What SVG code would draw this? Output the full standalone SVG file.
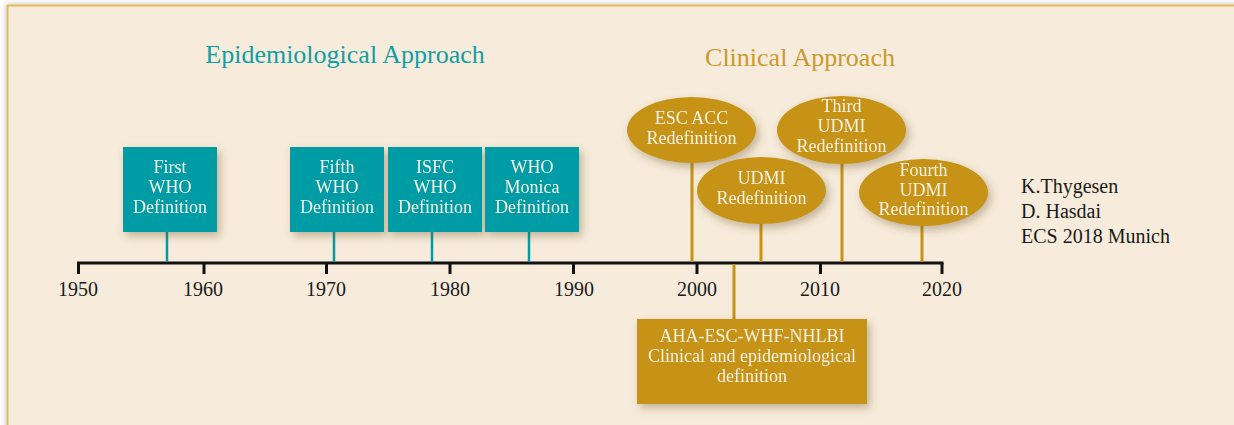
<svg xmlns="http://www.w3.org/2000/svg" width="1234" height="425" viewBox="0 0 1234 425">
  <defs>
    <filter id="panelShadow" x="-5%" y="-5%" width="110%" height="110%">
      <feDropShadow dx="0" dy="0" stdDeviation="3" flood-color="#000" flood-opacity="0.25"/>
    </filter>
    <filter id="nodeShadow" x="-20%" y="-20%" width="145%" height="150%">
      <feDropShadow dx="3" dy="4" stdDeviation="4" flood-color="#5a4020" flood-opacity="0.35"/>
    </filter>
    <style>
      .teal { fill: #009ca5; }
      .gold { fill: #c79315; }
      .node-text { font-family: "Liberation Serif", "Times New Roman", serif; font-size: 18px; fill: #f6f1e6; text-anchor: middle; }
      .year { font-family: "Liberation Serif", "Times New Roman", serif; font-size: 20px; fill: #1a1a1a; text-anchor: middle; }
      .title { font-family: "Liberation Serif", "Times New Roman", serif; font-size: 26px; text-anchor: middle; }
      .credit { font-family: "Liberation Serif", "Times New Roman", serif; font-size: 20px; fill: #1a1a1a; }
      .stem-teal { stroke: #009ca5; stroke-width: 2.5; fill: none; }
      .stem-gold { stroke: #c79315; stroke-width: 3; fill: none; }
      .axis { stroke: #111; stroke-width: 3; fill: none; }
    </style>
  </defs>

  <!-- page and panel -->
  <rect x="0" y="0" width="1234" height="425" fill="#ffffff"/>
  <rect x="7.5" y="5.5" width="1240" height="430" fill="#f7ecdb" stroke="#e2b85a" stroke-width="2" filter="url(#panelShadow)"/>

  <!-- section titles -->
  <text class="title" x="345" y="63" fill="#129ea6">Epidemiological Approach</text>
  <text class="title" x="800" y="66" fill="#c99a2e">Clinical Approach</text>

  <!-- timeline axis with decade ticks -->
  <g id="axis">
    <line class="axis" x1="77" y1="263" x2="943.5" y2="263"/>
    <g stroke="#111" stroke-width="3">
      <line x1="78.5" y1="263" x2="78.5" y2="274"/>
      <line x1="204" y1="263" x2="204" y2="274"/>
      <line x1="326.5" y1="263" x2="326.5" y2="274"/>
      <line x1="450" y1="263" x2="450" y2="274"/>
      <line x1="573.5" y1="263" x2="573.5" y2="274"/>
      <line x1="697" y1="263" x2="697" y2="274"/>
      <line x1="820.5" y1="263" x2="820.5" y2="274"/>
      <line x1="942" y1="263" x2="942" y2="274"/>
    </g>
    <text class="year" x="78" y="296">1950</text>
    <text class="year" x="203" y="296">1960</text>
    <text class="year" x="326" y="296">1970</text>
    <text class="year" x="450" y="296">1980</text>
    <text class="year" x="574" y="296">1990</text>
    <text class="year" x="697" y="296">2000</text>
    <text class="year" x="820" y="296">2010</text>
    <text class="year" x="942" y="296">2020</text>
  </g>

  <!-- connectors from each definition to its year -->
  <g id="connectors">
    <line class="stem-teal" x1="167" y1="232" x2="167" y2="262"/>
    <line class="stem-teal" x1="334" y1="232" x2="334" y2="262"/>
    <line class="stem-teal" x1="432" y1="232" x2="432" y2="262"/>
    <line class="stem-teal" x1="529" y1="232" x2="529" y2="262"/>
    <line class="stem-gold" x1="692" y1="162" x2="692" y2="262"/>
    <line class="stem-gold" x1="761" y1="223" x2="761" y2="262"/>
    <line class="stem-gold" x1="842" y1="163" x2="842" y2="262"/>
    <line class="stem-gold" x1="922" y1="225" x2="922" y2="262"/>
    <line class="stem-gold" x1="734" y1="264" x2="734" y2="320"/>
  </g>

  <!-- epidemiological definitions -->
  <g id="first-who" filter="url(#nodeShadow)">
    <rect class="teal" x="123" y="147" width="94" height="85"/>
    <text class="node-text" x="170" y="173">First</text>
    <text class="node-text" x="170" y="193">WHO</text>
    <text class="node-text" x="170" y="213">Definition</text>
  </g>
  <g id="fifth-who" filter="url(#nodeShadow)">
    <rect class="teal" x="290" y="147" width="94" height="85"/>
    <text class="node-text" x="337" y="173">Fifth</text>
    <text class="node-text" x="337" y="193">WHO</text>
    <text class="node-text" x="337" y="213">Definition</text>
  </g>
  <g id="isfc-who" filter="url(#nodeShadow)">
    <rect class="teal" x="388" y="147" width="94" height="85"/>
    <text class="node-text" x="435" y="173">ISFC</text>
    <text class="node-text" x="435" y="193">WHO</text>
    <text class="node-text" x="435" y="213">Definition</text>
  </g>
  <g id="who-monica" filter="url(#nodeShadow)">
    <rect class="teal" x="485" y="147" width="94" height="85"/>
    <text class="node-text" x="532" y="173">WHO</text>
    <text class="node-text" x="532" y="193">Monica</text>
    <text class="node-text" x="532" y="213">Definition</text>
  </g>

  <!-- clinical redefinitions -->
  <g id="esc-acc" filter="url(#nodeShadow)">
    <ellipse class="gold" cx="691.5" cy="130" rx="64.5" ry="33"/>
    <text class="node-text" x="691.5" y="124">ESC ACC</text>
    <text class="node-text" x="691.5" y="144">Redefinition</text>
  </g>
  <g id="udmi" filter="url(#nodeShadow)">
    <ellipse class="gold" cx="761.5" cy="190.5" rx="64.5" ry="33.5"/>
    <text class="node-text" x="761.5" y="184">UDMI</text>
    <text class="node-text" x="761.5" y="204">Redefinition</text>
  </g>
  <g id="third-udmi" filter="url(#nodeShadow)">
    <ellipse class="gold" cx="841.5" cy="130" rx="64.5" ry="34"/>
    <text class="node-text" x="841.5" y="112">Third</text>
    <text class="node-text" x="841.5" y="132">UDMI</text>
    <text class="node-text" x="841.5" y="152">Redefinition</text>
  </g>
  <g id="fourth-udmi" filter="url(#nodeShadow)">
    <ellipse class="gold" cx="923.5" cy="192.5" rx="64.5" ry="33.5"/>
    <text class="node-text" x="923.5" y="176">Fourth</text>
    <text class="node-text" x="923.5" y="196">UDMI</text>
    <text class="node-text" x="923.5" y="215">Redefinition</text>
  </g>
  <g id="aha-esc" filter="url(#nodeShadow)">
    <rect class="gold" x="637" y="319" width="230" height="85"/>
    <text class="node-text" x="752" y="342">AHA-ESC-WHF-NHLBI</text>
    <text class="node-text" x="752" y="362">Clinical and epidemiological</text>
    <text class="node-text" x="752" y="382">definition</text>
  </g>

  <!-- credits -->
  <g id="credits">
    <text class="credit" x="1021" y="193">K.Thygesen</text>
    <text class="credit" x="1021" y="218">D. Hasdai</text>
    <text class="credit" x="1021" y="243">ECS 2018 Munich</text>
  </g>
</svg>
